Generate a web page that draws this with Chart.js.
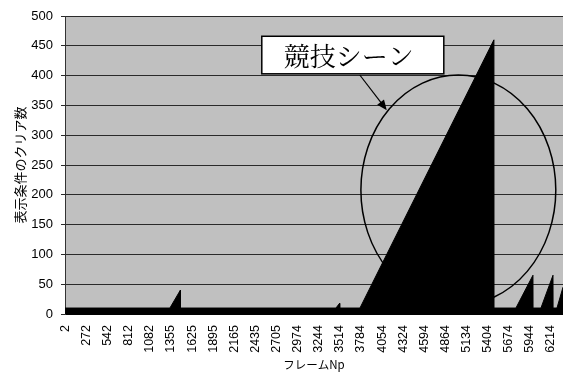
<!DOCTYPE html>
<html>
<head>
<meta charset="utf-8">
<script src="https://cdn.jsdelivr.net/npm/chart.js@4/dist/chart.umd.min.js"></script>
<style>
    body { margin: 0; background: #fff; }
    #wrap { width: 563px; height: 374px; }
</style>
</head>
<body>
<div id="wrap"><canvas id="clearChart" width="563" height="374"></canvas></div>
<script>
// frame number -> number of cleared display conditions (vertices of the black area)
const frames = [0, 1341, 1475, 1476, 3464, 3511, 3512, 3771, 5484, 5485, 5765, 5983, 5984, 6085, 6239, 6240, 6290, 6367];
const clears = [10, 10, 40, 10, 10, 18, 10, 10, 460, 10, 10, 65, 10, 10, 65, 10, 10, 45];

// labelled frames on the x axis
const frameTicks = [2, 272, 542, 812, 1082, 1355, 1625, 1895, 2165, 2435, 2705, 2974, 3244, 3514, 3784, 4054, 4324, 4594, 4864, 5134, 5404, 5674, 5944, 6214];

const xMax = 6367;
const yMax = 500;
const yStep = 50;

const latinFont = '"Liberation Sans", Arial, sans-serif';
const cjkFont = '"Noto Sans CJK JP", "Liberation Sans", sans-serif';

// annotation ("競技シーン" callout), in data units
const sceneLabel = '競技シーン';
const sceneBox = { x1: 2516, x2: 4843, y1: 466, y2: 403 };
const sceneArrow = { x1: 3769, y1: 401, x2: 4114, y2: 342 };
const sceneEllipse = { cx: 5029, cy: 208, rx: 1246, ry: 193 };

const plotBackground = {
    id: 'plotBackground',
    beforeDraw(chart) {
        const { ctx, chartArea } = chart;
        ctx.save();
        ctx.fillStyle = '#c0c0c0';
        ctx.fillRect(chartArea.left, chartArea.top, chartArea.right - chartArea.left, chartArea.bottom - chartArea.top);
        ctx.restore();
    }
};

const sceneCallout = {
    id: 'sceneCallout',
    afterDatasetsDraw(chart) {
        const { ctx } = chart;
        const xs = chart.scales.x;
        const ys = chart.scales.y;
        const px = v => xs.getPixelForValue(v);
        const py = v => ys.getPixelForValue(v);

        ctx.save();

        // ellipse
        const cx = px(sceneEllipse.cx);
        const cy = py(sceneEllipse.cy);
        const rx = px(sceneEllipse.cx + sceneEllipse.rx) - cx;
        const ry = cy - py(sceneEllipse.cy + sceneEllipse.ry);
        ctx.beginPath();
        ctx.ellipse(cx, cy, rx, ry, 0, 0, Math.PI * 2);
        ctx.strokeStyle = '#000';
        ctx.lineWidth = 1.5;
        ctx.stroke();

        // arrow
        const ax1 = px(sceneArrow.x1), ay1 = py(sceneArrow.y1);
        const ax2 = px(sceneArrow.x2), ay2 = py(sceneArrow.y2);
        const ang = Math.atan2(ay2 - ay1, ax2 - ax1);
        const head = 11;
        ctx.beginPath();
        ctx.moveTo(ax1, ay1);
        ctx.lineTo(ax2 - Math.cos(ang) * head * 0.8, ay2 - Math.sin(ang) * head * 0.8);
        ctx.lineWidth = 1.2;
        ctx.stroke();
        ctx.beginPath();
        ctx.moveTo(ax2, ay2);
        ctx.lineTo(ax2 - head * Math.cos(ang - 0.4), ay2 - head * Math.sin(ang - 0.4));
        ctx.lineTo(ax2 - head * Math.cos(ang + 0.4), ay2 - head * Math.sin(ang + 0.4));
        ctx.closePath();
        ctx.fillStyle = '#000';
        ctx.fill();

        // label box
        const bx1 = px(sceneBox.x1), by1 = py(sceneBox.y1);
        const bx2 = px(sceneBox.x2), by2 = py(sceneBox.y2);
        ctx.fillStyle = '#fff';
        ctx.fillRect(bx1, by1, bx2 - bx1, by2 - by1);
        ctx.lineWidth = 1.5;
        ctx.strokeStyle = '#000';
        ctx.strokeRect(bx1, by1, bx2 - bx1, by2 - by1);
        ctx.fillStyle = '#000';
        ctx.font = '26px "Noto Serif CJK JP", "Noto Sans CJK JP", serif';
        ctx.textAlign = 'center';
        ctx.textBaseline = 'middle';
        ctx.fillText(sceneLabel, (bx1 + bx2) / 2 - 4, (by1 + by2) / 2 + 1);

        ctx.restore();
    }
};

new Chart(document.getElementById('clearChart'), {
    type: 'line',
    data: {
        datasets: [{
            data: frames.map((f, i) => ({ x: f, y: clears[i] })),
            borderColor: '#000',
            backgroundColor: '#000',
            borderWidth: 1,
            fill: 'origin',
            tension: 0,
            pointRadius: 0
        }]
    },
    options: {
        responsive: false,
        animation: false,
        layout: {
            padding: { top: 16, left: 0, right: 0, bottom: 0 }
        },
        plugins: {
            legend: { display: false },
            tooltip: { enabled: false }
        },
        scales: {
            x: {
                type: 'linear',
                min: 0,
                max: xMax,
                grid: { display: false },
                border: { display: true, color: '#000' },
                afterBuildTicks: scale => {
                    scale.ticks = frameTicks.map(v => ({ value: v }));
                },
                afterFit: scale => {
                    scale.height = 60;
                    scale.paddingLeft = 0;
                    scale.paddingRight = 0;
                },
                ticks: {
                    autoSkip: false,
                    minRotation: 90,
                    maxRotation: 90,
                    padding: 3,
                    color: '#000',
                    font: { family: latinFont, size: 12.5 },
                    callback: value => String(value)
                },
                title: {
                    display: true,
                    text: 'フレームNp',
                    color: '#000',
                    font: { family: cjkFont, size: 11.5 },
                    padding: { top: 0, bottom: 2 }
                }
            },
            y: {
                min: 0,
                max: yMax,
                grid: {
                    color: '#2a2a2a',
                    lineWidth: 1,
                    tickLength: 4
                },
                border: { display: true, color: '#333' },
                afterFit: scale => {
                    scale.width = 65;
                },
                ticks: {
                    stepSize: yStep,
                    padding: 8,
                    color: '#000',
                    font: { family: latinFont, size: 13 }
                },
                title: {
                    display: true,
                    text: '表示条件のクリア数',
                    color: '#000',
                    font: { family: cjkFont, size: 13 },
                    padding: { top: 12, bottom: 0 }
                }
            }
        }
    },
    plugins: [plotBackground, sceneCallout]
});
</script>
</body>
</html>
